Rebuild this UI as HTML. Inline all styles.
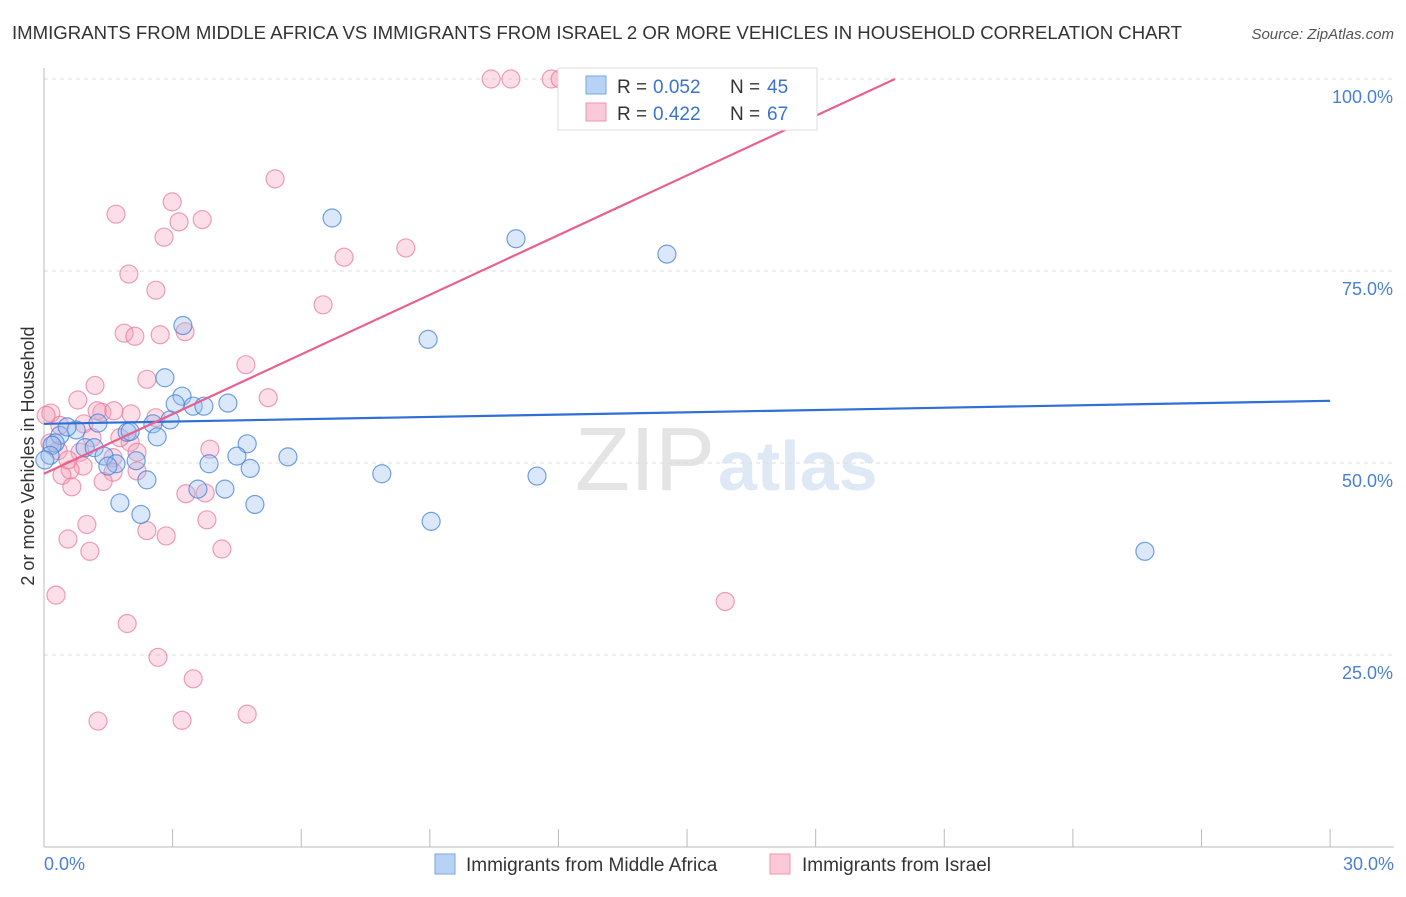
<!DOCTYPE html>
<html><head><meta charset="utf-8"><style>
body{margin:0;background:#fff;font-family:"Liberation Sans",sans-serif;}
svg text{font-family:"Liberation Sans",sans-serif;}
</style></head><body>
<svg id="chart" width="1406" height="892" viewBox="0 0 1406 892" xmlns="http://www.w3.org/2000/svg">
<text x="12" y="39" font-size="18" fill="#333" textLength="1170" lengthAdjust="spacingAndGlyphs">IMMIGRANTS FROM MIDDLE AFRICA VS IMMIGRANTS FROM ISRAEL 2 OR MORE VEHICLES IN HOUSEHOLD CORRELATION CHART</text>
<text x="1394" y="39" font-size="15" fill="#555" text-anchor="end" font-style="italic">Source: ZipAtlas.com</text>
<text x="715" y="490" font-size="90" fill="#e4e4e4" text-anchor="end" font-family="Liberation Serif">ZIP</text>
<text x="718" y="490" font-size="70" fill="#dfe8f5" font-weight="bold">atlas</text>
<g id="grid"></g>
<g id="axes"></g>
<g id="pts"></g>
<g id="lines"></g>
<text transform="translate(34,456) rotate(-90)" font-size="18" fill="#333" text-anchor="middle">2 or more Vehicles in Household</text>
<text x="44" y="870" font-size="18" fill="#4a7fd4">0.0%</text>
<text x="1394" y="870" font-size="18" fill="#4a7fd4" text-anchor="end">30.0%</text>
<g>
<rect x="558" y="68" width="259" height="62" fill="#fff" stroke="#ddd"/>
<rect x="586" y="76" width="20" height="18" fill="#b8d2f5" stroke="#7aa6e6"/>
<rect x="586" y="103" width="20" height="18" fill="#fbc9d8" stroke="#f094b2"/>
<text x="617" y="93" font-size="19" fill="#333">R = </text>
<text x="653" y="93" font-size="19" fill="#3a73cf">0.052</text>
<text x="730" y="93" font-size="19" fill="#333">N = </text>
<text x="767" y="93" font-size="19" fill="#3a73cf">45</text>
<text x="617" y="120" font-size="19" fill="#333">R = </text>
<text x="653" y="120" font-size="19" fill="#3a73cf">0.422</text>
<text x="730" y="120" font-size="19" fill="#333">N = </text>
<text x="767" y="120" font-size="19" fill="#3a73cf">67</text>
</g>
<g>
<rect x="435" y="854" width="20" height="20" fill="#b8d2f5" stroke="#7aa6e6"/>
<text x="466" y="871" font-size="19" fill="#333">Immigrants from Middle Africa</text>
<rect x="770" y="854" width="20" height="20" fill="#fbc9d8" stroke="#f094b2"/>
<text x="802" y="871" font-size="19" fill="#333">Immigrants from Israel</text>
</g>
</svg>
<script>
const blueX=[6.72,11.01,14.53,3.24,8.96,2.82,3.22,3.06,3.48,3.73,4.29,2.94,2.54,1.26,0.75,1.94,2.01,2.64,4.74,0.37,0.26,0.96,0.19,1.17,1.4,2.15,1.68,1.49,3.85,4.5,4.81,5.69,2.4,7.88,11.5,3.59,4.22,1.77,4.92,2.26,9.03,25.68,0.14,0.02,0.54];
const blueY=[81.9,79.2,77.2,67.9,66.1,61.1,58.7,57.7,57.4,57.4,57.8,55.6,55.1,55.2,54.3,54.0,54.1,53.4,52.5,53.6,52.6,52.0,52.3,52.0,50.9,50.3,49.9,49.6,49.9,50.9,49.3,50.8,47.8,48.6,48.3,46.6,46.6,44.8,44.6,43.3,42.4,38.5,51.0,50.4,54.7];
const pinkX=[10.43,10.89,11.83,12.04,5.39,2.99,1.68,3.69,3.15,2.8,8.44,7.0,1.98,2.61,6.51,1.87,2.12,2.71,3.29,2.4,4.71,1.19,0.79,5.23,0.16,1.35,1.24,2.03,1.63,2.61,0.93,0.37,2.01,1.12,1.77,0.84,0.33,3.87,1.61,2.17,0.91,0.61,0.42,1.61,2.17,1.38,0.65,3.31,3.76,3.8,1.0,2.4,2.85,0.56,4.15,1.07,0.28,15.89,1.94,2.66,3.48,1.26,3.22,4.74,0.05,0.14,0.56];
const pinkY=[100,100,100,100,87,84,82.4,81.7,81.4,79.4,78.0,76.8,74.6,72.5,70.6,66.9,66.5,66.7,67.1,60.9,62.8,60.1,58.2,58.5,56.5,56.6,56.8,56.4,56.8,55.9,55.1,54.9,52.7,53.3,53.3,51.4,51.6,51.8,50.7,51.4,49.6,49.1,48.4,48.8,48.96,47.6,46.9,46.0,46.1,42.6,42.0,41.2,40.5,40.1,38.8,38.5,32.8,31.97,29.1,24.7,21.9,16.4,16.5,17.3,56.2,52.6,50.4];
const trendBlue=[55.1,58.1];
const trendPink=[48.6,100];
const pinkEndX=19.85;
const yTicks=[25,50,75,100];
const xTicks=[0,3,6,9,12,15,18,21,24,27,30];
const NS="http://www.w3.org/2000/svg";
const sx=v=>44+v*42.87, sy=v=>847-v*7.68;
function mk(tag,attrs,parent){const e=document.createElementNS(NS,tag);for(const k in attrs)e.setAttribute(k,attrs[k]);parent.appendChild(e);return e;}
const grid=document.getElementById('grid'),axes=document.getElementById('axes'),pts=document.getElementById('pts'),lines=document.getElementById('lines');
yTicks.forEach(t=>{
 const l=mk('line',{x1:44,x2:1394,y1:sy(t),y2:sy(t),stroke:'#ddd','stroke-dasharray':'4,4'},grid);
 
 
 const tx=mk('text',{x:1393,y:sy(t)+24,'font-size':18,fill:'#4a7fd4','text-anchor':'end'},grid);
 tx.textContent=t.toFixed(1)+'%';
 
 
});
const ya=mk('line',{x1:44,x2:44,y1:68,y2:847,stroke:'#bbb'},axes);


const xa=mk('line',{x1:44,x2:1394,y1:847,y2:847,stroke:'#bbb'},axes);


xTicks.forEach(t=>{
 const l=mk('line',{x1:sx(t),x2:sx(t),y1:829,y2:847,stroke:'#bbb'},axes);
 
 
});
pinkX.forEach((x,i)=>{
 const c=mk('circle',{cx:sx(x),cy:sy(pinkY[i]),r:9,fill:'rgba(244,160,186,0.35)',stroke:'rgba(232,120,155,0.7)','stroke-width':1.2},pts);
 
 
});
blueX.forEach((x,i)=>{
 const c=mk('circle',{cx:sx(x),cy:sy(blueY[i]),r:9,fill:'rgba(150,190,240,0.35)',stroke:'rgba(70,130,215,0.75)','stroke-width':1.2},pts);
 
 
});
const lb=mk('line',{x1:sx(0),y1:sy(trendBlue[0]),x2:sx(30),y2:sy(trendBlue[1]),stroke:'#2f6fd6','stroke-width':2.2},lines);


const lp=mk('line',{x1:sx(0),y1:sy(trendPink[0]),x2:sx(pinkEndX),y2:sy(trendPink[1]),stroke:'#e8618e','stroke-width':2.2},lines);


</script>
</body></html>
